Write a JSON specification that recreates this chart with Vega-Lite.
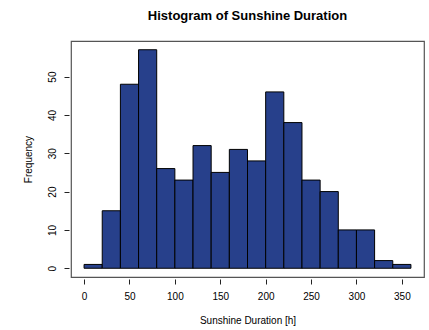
{
  "$schema": "https://vega.github.io/schema/vega-lite/v6.json",
  "autosize": "none",
  "width": 353,
  "height": 236,
  "padding": {"left": 71, "top": 41, "right": 5, "bottom": 53},
  "background": "white",
  "title": {
    "text": "Histogram of Sunshine Duration",
    "font": "Liberation Sans",
    "fontSize": 13,
    "fontWeight": "bold",
    "color": "black",
    "anchor": "middle",
    "offset": 18
  },
  "config": {
    "view": {"stroke": "#555555", "strokeWidth": 1.2},
    "axis": {
      "labelFont": "Liberation Sans",
      "titleFont": "Liberation Sans",
      "labelFontSize": 10,
      "titleFontSize": 10,
      "titleFontWeight": "normal",
      "labelColor": "black",
      "titleColor": "black",
      "tickColor": "#222222",
      "tickSize": 5,
      "grid": false,
      "domain": false,
      "offset": 2
    }
  },
  "data": {
    "values": [
      {"start": 0, "end": 20, "count": 1},
      {"start": 20, "end": 40, "count": 15},
      {"start": 40, "end": 60, "count": 48},
      {"start": 60, "end": 80, "count": 57},
      {"start": 80, "end": 100, "count": 26},
      {"start": 100, "end": 120, "count": 23},
      {"start": 120, "end": 140, "count": 32},
      {"start": 140, "end": 160, "count": 25},
      {"start": 160, "end": 180, "count": 31},
      {"start": 180, "end": 200, "count": 28},
      {"start": 200, "end": 220, "count": 46},
      {"start": 220, "end": 240, "count": 38},
      {"start": 240, "end": 260, "count": 23},
      {"start": 260, "end": 280, "count": 20},
      {"start": 280, "end": 300, "count": 10},
      {"start": 300, "end": 320, "count": 10},
      {"start": 320, "end": 340, "count": 2},
      {"start": 340, "end": 360, "count": 1}
    ]
  },
  "mark": {"type": "bar", "color": "#27408B", "stroke": "black", "strokeWidth": 1},
  "encoding": {
    "x": {
      "field": "start",
      "type": "quantitative",
      "scale": {"domain": [-14.4, 374.4], "nice": false, "zero": false},
      "axis": {
        "title": "Sunshine Duration [h]",
        "values": [0, 50, 100, 150, 200, 250, 300, 350],
        "labelPadding": 7,
        "titlePadding": 14
      }
    },
    "x2": {"field": "end"},
    "y": {
      "field": "count",
      "type": "quantitative",
      "scale": {"domain": [-2.28, 59.28], "nice": false, "zero": false},
      "axis": {
        "title": "Frequency",
        "values": [0, 10, 20, 30, 40, 50],
        "labelAngle": -90,
        "labelAlign": "center",
        "labelBaseline": "bottom",
        "labelPadding": 7,
        "titlePadding": 14
      }
    },
    "y2": {"datum": 0}
  }
}
